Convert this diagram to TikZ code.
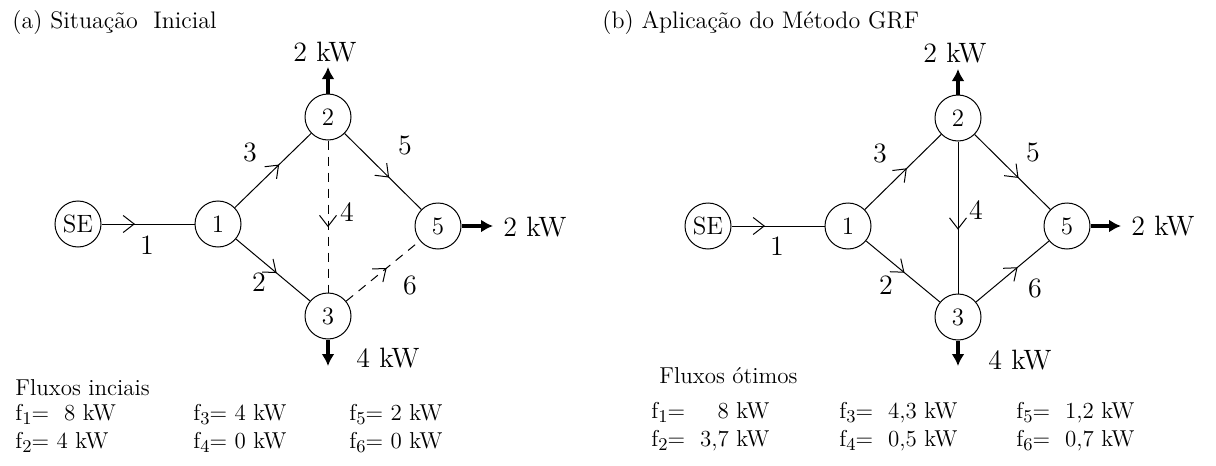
\documentclass[tikz,border=0pt]{standalone}
\usepackage{tikz}
\usetikzlibrary{arrows.meta, positioning, decorations.markings}

\newcommand\fl[1]{f\raisebox{-0.45ex}{\fontsize{9}{9}\selectfont #1}}

\begin{document}
\begin{tikzpicture}[
  x=0.5pt, y=-0.5pt,
  bus/.style={draw, circle, line width=0.5pt, minimum size=23pt, inner sep=0pt, font=\fontsize{12.5}{14}\selectfont},
  flow/.style={line width=0.5pt, postaction={decorate},
    decoration={markings, mark=at position #1 with {\arrow{Straight Barb[length=5.5pt,width=8.5pt]}}}},
  off/.style={dash pattern=on 4.5pt off 3.5pt},
  load/.style={line width=2pt, -{Latex[length=6pt,width=6.5pt]}},
  lbl/.style={font=\fontsize{14}{16}\selectfont, inner sep=0pt},
  title/.style={font=\fontsize{12}{14}\selectfont, anchor=west, inner sep=0pt},
  txt/.style={font=\fontsize{11.5}{14}\selectfont, anchor=west, inner sep=0pt, align=left}
]
\useasboundingbox (0,0) rectangle (1216,466);

% (a) initial situation
\node[title] (atitle) at (12,23) {(a) Situação\ \ Inicial};

\node[bus] (aSE) at (78,224) {SE};
\node[bus] (a1) at (218,224) {1};
\node[bus] (a2) at (328,117) {2};
\node[bus] (a3) at (328,316) {3};
\node[bus] (a5) at (438,226) {5};

\draw[flow=0.36] (aSE) -- (a1);
\draw[flow=0.58] (a1) -- (a2);
\draw[flow=0.55] (a1) -- (a3);
\draw[flow=0.58] (a2) -- (a5);
\draw[flow=0.57, off] (a2) -- (a3);
\draw[flow=0.55, off] (a3) -- (a5);

\node[lbl] (ae1) at (147,245) {1};
\node[lbl] (ae3) at (250,152) {3};
\node[lbl] (ae5) at (405,145) {5};
\node[lbl] (ae4) at (347,212) {4};
\node[lbl] (ae2) at (259,282) {2};
\node[lbl] (ae6) at (410,285) {6};

\coordinate (a2out) at (328,67);
\coordinate (a5out) at (493,226);
\coordinate (a3out) at (328,366);
\draw[load] (a2) -- (a2out);
\draw[load] (a5) -- (a5out);
\draw[load] (a3) -- (a3out);
\node[lbl] (a2kw) at (325,52) {2 kW};
\node[lbl, anchor=west] (a5kw) at (503,227) {2 kW};
\node[lbl] (a3kw) at (388,358) {4 kW};

\node[txt] (ahead) at (15,388) {Fluxos inciais};
\node[txt, anchor=north west] (aflux) at (15,400) {%
  \begin{tabular}{@{}p{89pt}@{}p{78pt}@{}l@{}}
  \fl{1}= \ 8 kW & \fl{3}= 4 kW & \fl{5}= 2 kW\\
  \fl{2}= 4 kW & \fl{4}= 0 kW & \fl{6}= 0 kW
  \end{tabular}};

% (b) GRF method
\node[title] (btitle) at (602,23) {(b) Aplicação do Método GRF};

\node[bus] (bSE) at (708,226) {SE};
\node[bus] (b1) at (848,226) {1};
\node[bus] (b2) at (958,118) {2};
\node[bus] (b3) at (958,317) {3};
\node[bus] (b5) at (1067,226) {5};

\draw[flow=0.36] (bSE) -- (b1);
\draw[flow=0.55] (b1) -- (b2);
\draw[flow=0.52] (b1) -- (b3);
\draw[flow=0.58] (b2) -- (b5);
\draw[flow=0.58] (b2) -- (b3);
\draw[flow=0.57] (b3) -- (b5);

\node[lbl] (be1) at (777,246) {1};
\node[lbl] (be3) at (880,153) {3};
\node[lbl] (be5) at (1033,152) {5};
\node[lbl] (be4) at (976,210) {4};
\node[lbl] (be2) at (886,285) {2};
\node[lbl] (be6) at (1035,288) {6};

\coordinate (b2out) at (958,69);
\coordinate (b5out) at (1121,226);
\coordinate (b3out) at (958,366);
\draw[load] (b2) -- (b2out);
\draw[load] (b5) -- (b5out);
\draw[load] (b3) -- (b3out);
\node[lbl] (b2kw) at (955,53) {2 kW};
\node[lbl, anchor=west] (b5kw) at (1131,226) {2 kW};
\node[lbl] (b3kw) at (1020,360) {4 kW};

\node[txt] (bhead) at (659,376) {Fluxos ótimos};
\node[txt, anchor=north west] (bflux) at (651,398) {%
  \begin{tabular}{@{}p{94pt}@{}p{88.5pt}@{}l@{}}
  \fl{1}= \ \phantom{3,}8 kW & \fl{3}= \ 4,3 kW & \fl{5}= \ 1,2 kW\\
  \fl{2}= \ 3,7 kW & \fl{4}= \ 0,5 kW & \fl{6}= \ 0,7 kW
  \end{tabular}};
\end{tikzpicture}
\end{document}
